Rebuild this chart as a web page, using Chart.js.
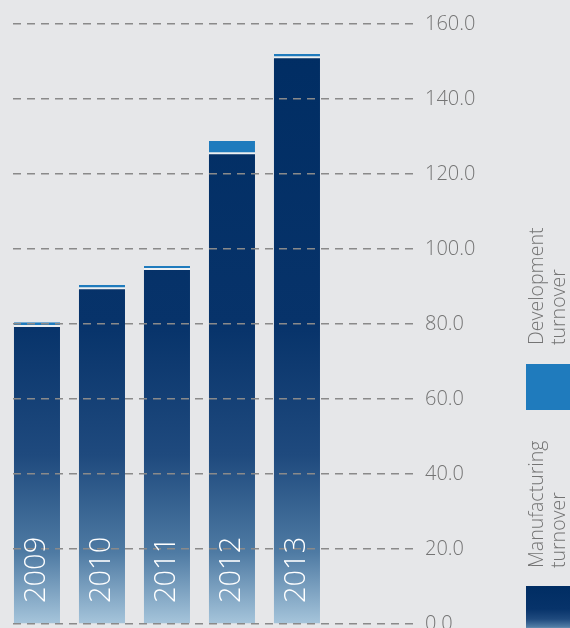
<!DOCTYPE html>
<html>
<head>
<meta charset="utf-8">
<script src="https://cdn.jsdelivr.net/npm/chart.js@4.4.0/dist/chart.umd.min.js"></script>
<style>
  html, body { margin: 0; padding: 0; background: #e6e7e9; overflow: hidden; }
  canvas { display: block; }
</style>
</head>
<body>
<canvas id="turnover-chart" width="570" height="648"></canvas>
<script>
// Turnover by year
const years = ['2009', '2010', '2011', '2012', '2013'];
const manufacturing = [79.2, 89.3, 94.4, 125.3, 150.9];
const development = [1.3, 1.1, 1.1, 3.5, 1.1];
const yTicks = [0, 20, 40, 60, 80, 100, 120, 140, 160];
const legendLabels = [['Development', 'turnover'], ['Manufacturing', 'turnover']];

const devBlue = '#1f7bbd';
const textGray = '#747474';
const fontFamily = "'Open Sans', 'DejaVu Sans', sans-serif";

function navyGradient(ctx, top, bottom) {
    const g = ctx.createLinearGradient(0, top, 0, bottom);
    g.addColorStop(0, '#002d63');
    g.addColorStop(0.5, '#07336a');
    g.addColorStop(0.72, '#1f4a7e');
    g.addColorStop(0.88, '#4e7aa3');
    g.addColorStop(1, '#a6c5db');
    return g;
}

// year labels inside the bars, plus the legend on the right
const extrasPlugin = {
    id: 'extras',
    afterDraw(chart) {
        const ctx = chart.ctx;
        const xScale = chart.scales.x;

        ctx.save();
        ctx.fillStyle = '#ffffff';
        ctx.font = '300 29px ' + fontFamily;
        ctx.textAlign = 'left';
        ctx.textBaseline = 'middle';
        years.forEach((year, i) => {
            ctx.save();
            ctx.translate(xScale.getPixelForValue(i), 603);
            ctx.rotate(-Math.PI / 2);
            ctx.fillText(year, 0, 0);
            ctx.restore();
        });
        ctx.restore();

        // legend
        const legendBottoms = [345, 568];
        const swatchTops = [364, 586];
        ctx.save();
        ctx.font = '300 19.5px ' + fontFamily;
        ctx.fillStyle = textGray;
        ctx.textAlign = 'left';
        ctx.textBaseline = 'middle';
        legendLabels.forEach((lines, k) => {
            lines.forEach((line, j) => {
                ctx.save();
                ctx.translate(537 + j * 22, legendBottoms[k]);
                ctx.rotate(-Math.PI / 2);
                ctx.fillText(line, 0, 0);
                ctx.restore();
            });
        });
        ctx.fillStyle = devBlue;
        ctx.fillRect(526, swatchTops[0], 44, 46);
        ctx.fillStyle = navyGradient(ctx, swatchTops[1], swatchTops[1] + 46);
        ctx.fillRect(526, swatchTops[1], 44, 60);
        ctx.restore();
    }
};

function drawChart() {
    const ctx = document.getElementById('turnover-chart').getContext('2d');

    new Chart(ctx, {
        type: 'bar',
        data: {
            datasets: [{
                label: 'Manufacturing turnover',
                data: manufacturing.map((v, i) => ({ x: i, y: v })),
                backgroundColor: (c) => {
                    const area = c.chart.chartArea;
                    if (!area) return '#002d63';
                    return navyGradient(c.chart.ctx, area.top, area.bottom);
                },
                borderWidth: 0,
                barPercentage: 0.708,
                categoryPercentage: 1
            }, {
                label: 'Development turnover',
                data: development.map((v, i) => ({ x: i, y: v })),
                backgroundColor: devBlue,
                borderColor: '#eef0f2',
                borderWidth: { top: 0, left: 0, right: 0, bottom: 2 },
                borderSkipped: false,
                barPercentage: 0.708,
                categoryPercentage: 1
            }]
        },
        options: {
            responsive: false,
            animation: false,
            layout: {
                padding: { left: 13, right: 81, top: 22, bottom: 11 }
            },
            plugins: {
                legend: { display: false },
                tooltip: { enabled: false }
            },
            scales: {
                x: {
                    type: 'linear',
                    display: false,
                    offset: false,
                    stacked: true,
                    min: -0.369,
                    max: 5.785
                },
                y: {
                    position: 'right',
                    stacked: true,
                    min: 0,
                    max: 160,
                    afterBuildTicks: (axis) => {
                        axis.ticks = yTicks.map(v => ({ value: v }));
                    },
                    afterFit: (axis) => {
                        axis.width = 76;  // keeps the plot right edge at 413
                    },
                    grid: {
                        z: 1,
                        color: '#8a8a8a',
                        lineWidth: 1.5,
                        drawTicks: false
                    },
                    border: {
                        display: false,
                        dash: [8, 6]
                    },
                    ticks: {
                        padding: 12,
                        color: textGray,
                        font: { family: fontFamily, size: 20, weight: '300' },
                        callback: (v) => Number(v).toFixed(1)
                    }
                }
            }
        },
        plugins: [extrasPlugin]
    });
}

Promise.all([
    document.fonts.load("300 20px 'Open Sans'"),
    document.fonts.load("400 20px 'Open Sans'")
]).then(drawChart, drawChart);
</script>
</body>
</html>
